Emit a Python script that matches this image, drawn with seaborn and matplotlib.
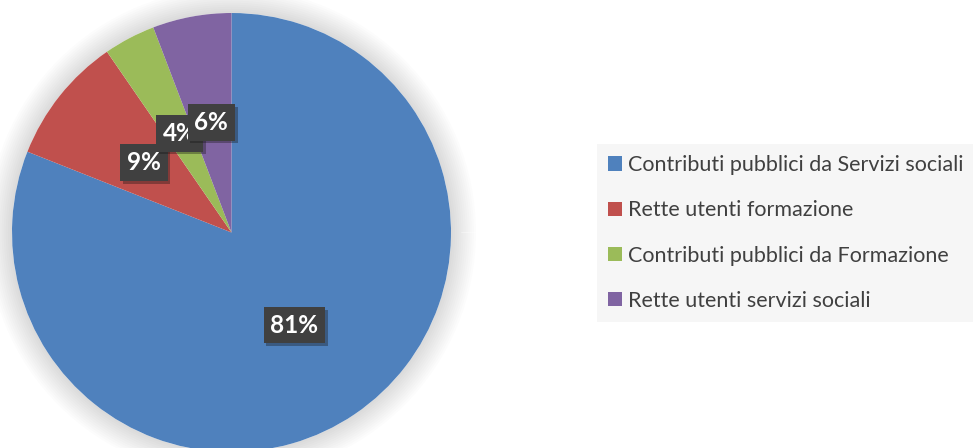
import matplotlib
matplotlib.use('Agg')
import matplotlib.pyplot as plt
from matplotlib import patheffects as pe
import seaborn as sns

# dati (quote %)
categorie = ['Contributi pubblici da Servizi sociali',
             'Rette utenti formazione',
             'Contributi pubblici da Formazione',
             'Rette utenti servizi sociali']
valori = [81.0, 9.4, 3.8, 5.8]
colori = ['#4F81BD', '#C0504D', '#9BBB59', '#8064A2']

sns.set_theme(style='white')
plt.rcParams['font.family'] = ['Lato', 'DejaVu Sans']

fig = plt.figure(figsize=(9.73, 4.48), dpi=100)
ax = fig.add_axes([0, 0, 1, 1])

centro = (231.5, 215.5)
raggio = 219.5

# ombra morbida dietro la torta
ombra = ax.pie([1], colors=['white'], center=centro, radius=raggio,
               wedgeprops=dict(linewidth=0))[0][0]
ombra.set_path_effects([pe.Stroke(linewidth=lw, foreground='black', alpha=0.012)
                        for lw in range(36, 0, -3)] + [pe.Normal()])

wedges, texts, autotexts = ax.pie(
    valori, colors=colori, center=centro, radius=raggio,
    startangle=90, counterclock=False,
    autopct=lambda p: f'{p:.0f}%', pctdistance=0.51,
    wedgeprops=dict(linewidth=0),
    textprops=dict(color='white', fontsize=17.5, fontweight='bold'))

for t in autotexts:
    t.set_bbox(dict(boxstyle='square,pad=0.28', fc='#404040', ec='none'))
    t.get_bbox_patch().set_path_effects(
        [pe.SimplePatchShadow(offset=(2, -2), alpha=0.35), pe.Normal()])

ax.set_xlim(0, 973)
ax.set_ylim(0, 448)
ax.set_aspect('equal')
ax.axis('off')

leg = ax.legend(wedges, categorie, loc='center left',
                bbox_to_anchor=(597 / 973, 215 / 448),
                fontsize=15.5, frameon=True, fancybox=False,
                handlelength=0.65, handleheight=0.65, handletextpad=0.3,
                borderpad=0.5, labelspacing=1.17, borderaxespad=0)
frame = leg.get_frame()
frame.set_facecolor('#f6f6f6')
frame.set_edgecolor('none')
frame.set_alpha(1)
for t in leg.get_texts():
    t.set_color('#404040')

fig.savefig('out.png', dpi=100)
